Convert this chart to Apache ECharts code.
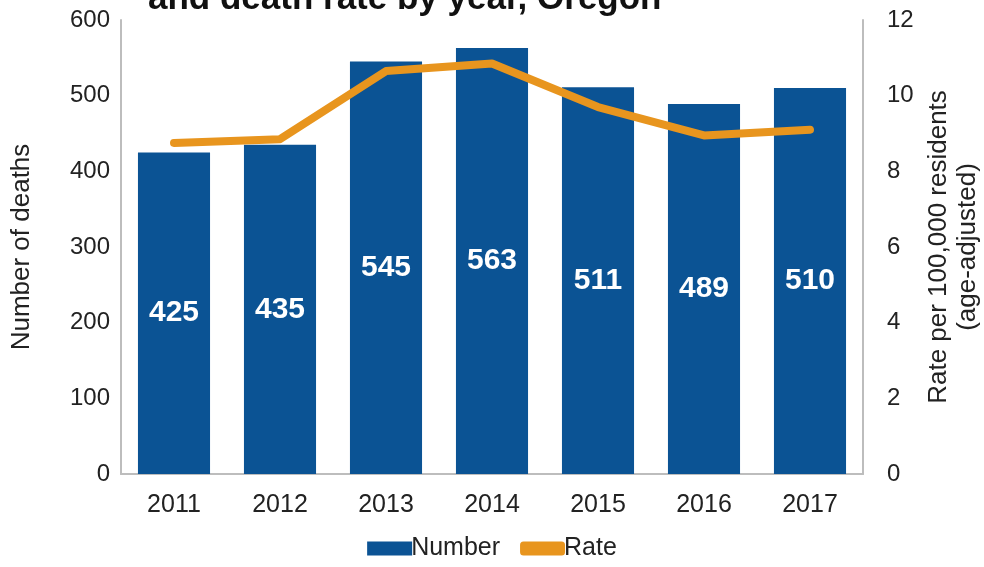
<!DOCTYPE html>
<html lang="en">
<head>
    <meta charset="UTF-8">
    <title>Deaths and death rate by year, Oregon</title>
    <script src="https://cdn.jsdelivr.net/npm/echarts/dist/echarts.min.js"></script>
    <style>
        html, body { margin: 0; padding: 0; background: #fff; }
        #chart { width: 984px; height: 567px; }
    </style>
</head>
<body>
    <div id="chart"></div>
    <script>
        // data
        const years = ['2011', '2012', '2013', '2014', '2015', '2016', '2017'];
        const deaths = [425, 435, 545, 563, 511, 489, 510];
        const rates = [8.75, 8.85, 10.65, 10.85, 9.7, 8.95, 9.1];

        const chart = echarts.init(document.getElementById('chart'));
        const font = 'Liberation Sans, Arial, sans-serif';

        const option = {
            textStyle: { fontFamily: font },
            title: {
                text: 'and death rate by year, Oregon',
                left: 143,
                top: -23,
                textStyle: { fontSize: 35, fontWeight: 'bold', color: '#111', fontFamily: font }
            },
            grid: { left: 121, right: 121, top: 20, bottom: 93, outerBoundsMode: 'none' },
            legend: {
                bottom: 1,
                left: 'center',
                itemWidth: 45,
                itemHeight: 14,
                itemGap: 20,
                textStyle: { fontSize: 25, color: '#222', padding: [0, 0, 0, -6] },
                data: [
                    { name: 'Number', icon: 'rect' },
                    { name: 'Rate', icon: 'roundRect' }
                ]
            },
            xAxis: {
                type: 'category',
                data: years,
                axisLine: { lineStyle: { color: '#bdbdbd', width: 2 } },
                axisTick: { show: false },
                axisLabel: { fontSize: 25, color: '#222', margin: 19 }
            },
            yAxis: [
                {
                    type: 'value',
                    min: 0, max: 600, interval: 100,
                    name: 'Number of deaths',
                    nameLocation: 'middle',
                    nameGap: 86,
                    nameTextStyle: { fontSize: 26, color: '#222' },
                    axisLine: { show: true, lineStyle: { color: '#bdbdbd', width: 2 } },
                    axisTick: { show: false },
                    splitLine: { show: false },
                    axisLabel: { fontSize: 24, color: '#222', margin: 11 }
                },
                {
                    type: 'value',
                    min: 0, max: 12, interval: 2,
                    name: 'Rate per 100,000 residents\n(age-adjusted)',
                    nameLocation: 'middle',
                    nameGap: 56,
                    nameRotate: 90,
                    nameTextStyle: { fontSize: 26, color: '#222', lineHeight: 29 },
                    axisLine: { show: true, lineStyle: { color: '#bdbdbd', width: 2 } },
                    axisTick: { show: false },
                    splitLine: { show: false },
                    axisLabel: { fontSize: 24, color: '#222', margin: 24 }
                }
            ],
            series: [
                {
                    name: 'Number',
                    type: 'bar',
                    data: deaths,
                    barWidth: '68%',
                    itemStyle: { color: '#0b5394' },
                    label: {
                        show: true,
                        position: 'inside',
                        color: '#fff',
                        fontSize: 30,
                        fontWeight: 'bold'
                    }
                },
                {
                    name: 'Rate',
                    type: 'line',
                    yAxisIndex: 1,
                    data: rates,
                    symbol: 'none',
                    itemStyle: { color: '#e8951e' },
                    lineStyle: { color: '#e8951e', width: 8, cap: 'round', join: 'round' }
                }
            ]
        };

        chart.setOption(option);
    </script>
</body>
</html>
